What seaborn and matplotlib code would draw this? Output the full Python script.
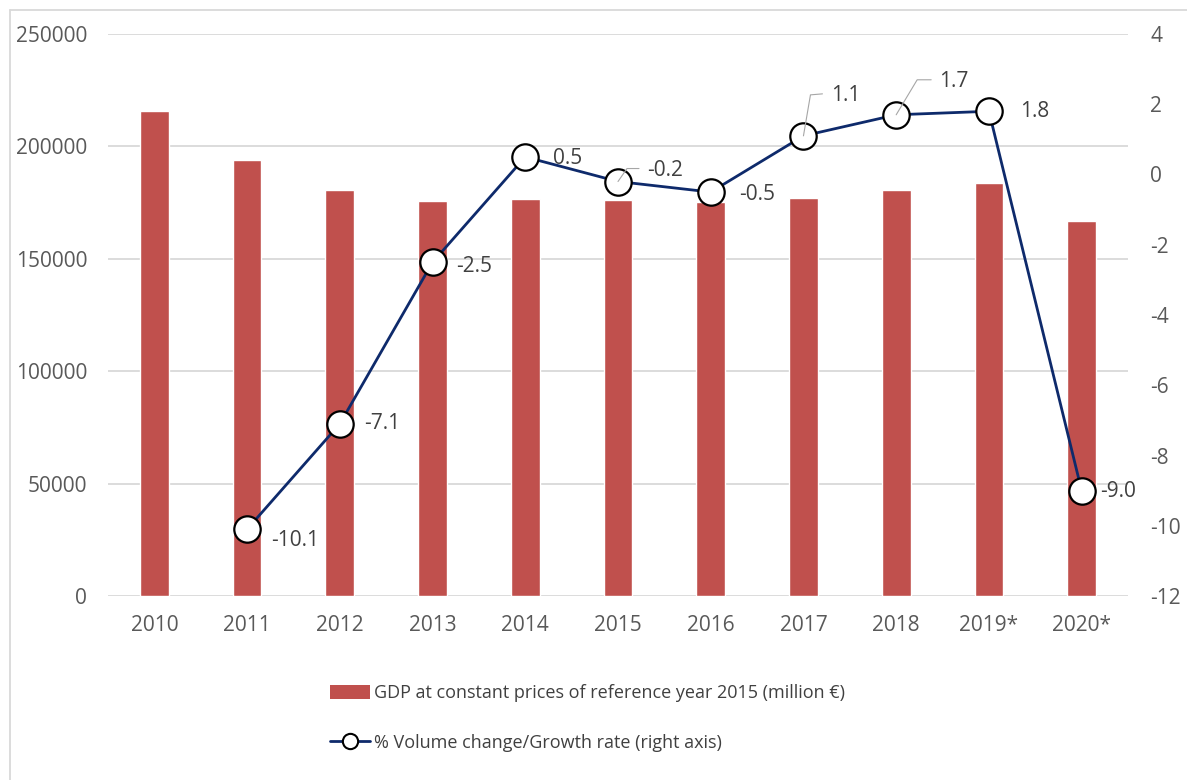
import matplotlib
import numpy as np
import pandas as pd
import seaborn as sns

matplotlib.use("Agg")
import matplotlib.pyplot as plt
from matplotlib.lines import Line2D
from matplotlib.patches import Patch

YEARS = ["2010", "2011", "2012", "2013", "2014", "2015", "2016", "2017", "2018", "2019*", "2020*"]
GDP = [215700, 194000, 180600, 175700, 176600, 176300, 175300, 177100, 180500, 183700, 166800]
GROWTH_YEARS = YEARS[1:]
GROWTH = [-10.1, -7.1, -2.5, 0.5, -0.2, -0.5, 1.1, 1.7, 1.8, -9.0]

BAR_LABEL = "GDP at constant prices of reference year 2015 (million €)"
LINE_LABEL = "% Volume change/Growth rate (right axis)"

BAR_COLOR = "#C0504D"
LINE_COLOR = "#0E2A6B"
TEXT_COLOR = "#595959"
LABEL_COLOR = "#404040"
GRID_COLOR = "#D9D9D9"

# label offsets in pixels (dx, dy) and optional leader line points
LABEL_OFFSETS = {
    "2011": (24, -11, None),
    "2012": (24, 0, None),
    "2013": (24, -4, None),
    "2014": (28, -2, None),
    "2015": (29, 11, [(0, 0), (9, 13), (21, 13)]),
    "2016": (28, -2, None),
    "2017": (28, 40, [(0, 0), (7, 41), (19, 42)]),
    "2018": (43, 33, [(0, 0), (21, 35), (35, 35)]),
    "2019*": (31, 0, None),
    "2020*": (18, -1, None),
}


def main() -> None:
    sns.set_theme(style="white")
    plt.rcParams["font.family"] = ["Open Sans", "DejaVu Sans"]
    plt.rcParams["axes.unicode_minus"] = False

    bars = pd.DataFrame({"year": YEARS, "gdp": GDP})
    growth = pd.DataFrame(
        {"pos": [YEARS.index(y) for y in GROWTH_YEARS], "rate": GROWTH, "year": GROWTH_YEARS}
    )

    fig = plt.figure(figsize=(11.87, 7.8), dpi=100)
    fig.patch.set_facecolor("white")
    ax = fig.add_axes([108 / 1187, 1 - 596 / 780, 1020 / 1187, 562 / 780])

    sns.barplot(data=bars, x="year", y="gdp", color=BAR_COLOR, saturation=1, width=0.31, ax=ax)
    ax.set_ylim(0, 250000)
    ax.set_yticks(np.arange(0, 250001, 50000))
    ax.set_xlim(-0.5, len(YEARS) - 0.5)
    ax.yaxis.grid(True, color=GRID_COLOR, linewidth=1.3)
    ax.set_axisbelow(True)
    ax.set_xlabel("")
    ax.set_ylabel("")
    for spine in ax.spines.values():
        spine.set_visible(False)
    ax.tick_params(axis="both", length=0, labelsize=15, colors=TEXT_COLOR)
    ax.tick_params(axis="y", pad=15)
    ax.tick_params(axis="x", pad=14)

    ax2 = ax.twinx()
    sns.lineplot(
        data=growth,
        x="pos",
        y="rate",
        color=LINE_COLOR,
        linewidth=2,
        marker="o",
        markersize=19,
        markerfacecolor="white",
        markeredgecolor="black",
        markeredgewidth=1.6,
        ax=ax2,
    )
    ax2.set_ylim(-12, 4)
    ax2.set_yticks(np.arange(-12, 5, 2))
    ax2.set_xlim(-0.5, len(YEARS) - 0.5)
    ax2.set_xlabel("")
    ax2.set_ylabel("")
    for spine in ax2.spines.values():
        spine.set_visible(False)
    ax2.tick_params(axis="y", length=0, labelsize=15, colors=TEXT_COLOR, pad=16)

    for _, row in growth.iterrows():
        dx, dy, leader = LABEL_OFFSETS[row["year"]]
        ax2.annotate(
            f"{row['rate']:.1f}",
            xy=(row["pos"], row["rate"]),
            xytext=(dx, dy),
            textcoords="offset pixels",
            ha="left",
            va="center",
            fontsize=15,
            color=LABEL_COLOR,
        )
        if leader:
            x0, y0 = ax2.transData.transform((row["pos"], row["rate"]))
            pts = [fig.transFigure.inverted().transform((x0 + px, y0 + py)) for px, py in leader]
            fig.add_artist(
                Line2D([p[0] for p in pts], [p[1] for p in pts], color="#A6A6A6", linewidth=0.8, zorder=1)
            )

    handles = [
        Patch(facecolor=BAR_COLOR, edgecolor="none"),
        Line2D([0], [0], color=LINE_COLOR, linewidth=2, marker="o", markersize=11,
               markerfacecolor="white", markeredgecolor="black", markeredgewidth=1.5),
    ]
    fig.legend(
        handles,
        [BAR_LABEL, LINE_LABEL],
        loc="upper left",
        bbox_to_anchor=(314 / 1187, 1 - 668 / 780),
        ncol=1,
        frameon=False,
        fontsize=13,
        labelcolor=LABEL_COLOR,
        handlelength=2.2,
        handleheight=0.8,
        handletextpad=0.25,
        labelspacing=1.75,
    )

    # light chart-area border
    fig.add_artist(Line2D([10 / 1187, 10 / 1187], [0, 1 - 10 / 780], color=GRID_COLOR, linewidth=1.3))
    fig.add_artist(Line2D([10 / 1187, 1], [1 - 10 / 780, 1 - 10 / 780], color=GRID_COLOR, linewidth=1.3))

    fig.savefig("out.png", dpi=100)
    plt.close(fig)


if __name__ == "__main__":
    main()
